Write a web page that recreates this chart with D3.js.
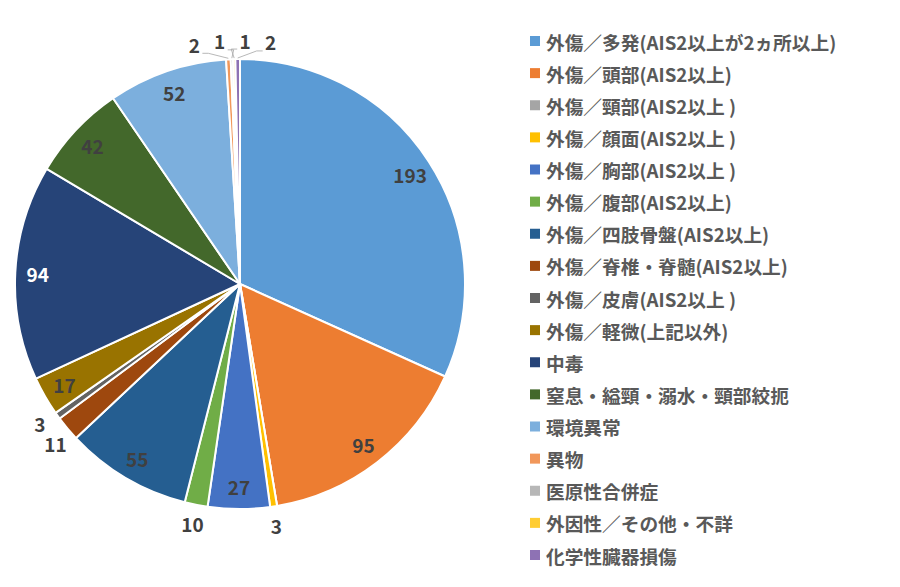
<!DOCTYPE html>
<html><head><meta charset="utf-8">
<script src="https://cdn.jsdelivr.net/npm/d3@7/dist/d3.min.js"></script>
<style>body{margin:0;background:#fff}svg{display:block}</style>
</head><body>
<svg id="c" width="900" height="587"></svg>
<script>
const categories = [
  "外傷／多発(AIS2以上が2ヵ所以上)",
  "外傷／頭部(AIS2以上)",
  "外傷／頸部(AIS2以上 )",
  "外傷／顔面(AIS2以上 )",
  "外傷／胸部(AIS2以上 )",
  "外傷／腹部(AIS2以上)",
  "外傷／四肢骨盤(AIS2以上)",
  "外傷／脊椎・脊髄(AIS2以上)",
  "外傷／皮膚(AIS2以上 )",
  "外傷／軽微(上記以外)",
  "中毒",
  "窒息・縊頸・溺水・頸部絞扼",
  "環境異常",
  "異物",
  "医原性合併症",
  "外因性／その他・不詳",
  "化学性臓器損傷"
];
const values = [193, 95, 0, 3, 27, 10, 55, 11, 3, 17, 94, 42, 52, 2, 1, 1, 2];
const colors = ["#5B9BD5","#ED7D31","#A5A5A5","#FFC000","#4472C4","#70AD47","#255E91","#9E480E",
                "#636363","#997300","#264478","#43682B","#7CAFDD","#F1975A","#B7B7B7","#FFCD33","#8E72B4"];
const whiteLabels = ["中毒"];

const svg = d3.select("#c");
const cx = 240, cy = 284, R = 225;
const font = "'Noto Sans CJK JP','Noto Sans',sans-serif";
const data = categories.map((c,i)=>({name:c, value:values[i], color:colors[i]}));
const pie = d3.pie().value(d=>d.value).sort(null);
const arcs = pie(data);
const arc = d3.arc().innerRadius(0).outerRadius(R);
const g = svg.append("g").attr("transform",`translate(${cx},${cy})`);
g.selectAll("path").data(arcs).join("path")
  .attr("d", arc).attr("fill", d=>d.data.color)
  .attr("stroke","#fff").attr("stroke-width",2).attr("stroke-linejoin","round");

const inside = [], outside = [];
arcs.forEach(a=>{
  if (a.data.value <= 0) return;
  const mid = (a.startAngle + a.endAngle)/2;
  if (a.data.value >= 15) inside.push({a, ang: mid});
  else outside.push({a, mid, ang: mid});
});
inside.forEach(o=>{
  const r = R*0.9;
  g.append("text").attr("x", r*Math.sin(o.ang)).attr("y", -r*Math.cos(o.ang))
    .attr("text-anchor","middle").attr("dominant-baseline","central")
    .attr("font-family",font).attr("font-weight","bold").attr("font-size",19)
    .attr("fill", whiteLabels.includes(o.a.data.name) ? "#fff" : "#404040")
    .text(o.a.data.value);
});
outside.sort((p,q)=>p.ang-q.ang);
const minSep = 6*Math.PI/180;
for (let it=0; it<200; it++){
  for (let i=0;i<outside.length-1;i++){
    const p=outside[i], q=outside[i+1];
    const d = q.ang-p.ang;
    if (d<minSep){ const s=(minSep-d)/2; p.ang-=s; q.ang+=s; }
  }
}
const rl = R+19;
outside.forEach(o=>{
  const x = rl*Math.sin(o.ang), y = -rl*Math.cos(o.ang);
  if (Math.abs(o.ang-o.mid) > 2*Math.PI/180){
    const ex = (R+1)*Math.sin(o.mid), ey = -(R+1)*Math.cos(o.mid);
    const sx = x + (Math.sin(o.ang)>0 ? -8 : 8), sy = y + 9;
    g.append("polyline")
      .attr("points", `${sx},${sy} ${sx + (ex>sx?6:-6)},${sy} ${ex},${ey}`)
      .attr("fill","none").attr("stroke","#A6A6A6").attr("stroke-width",0.8);
  }
  g.append("text").attr("x", x).attr("y", y)
    .attr("text-anchor","middle").attr("dominant-baseline","central")
    .attr("font-family",font).attr("font-weight","bold").attr("font-size",19)
    .attr("fill","#404040").text(o.a.data.value);
});

const ly = d3.scalePoint().domain(categories).range([41, 555]);
const lg = svg.append("g");
const items = lg.selectAll("g").data(data).join("g")
  .attr("transform", d=>`translate(530,${ly(d.name)})`);
items.append("rect").attr("x",0).attr("y",-5).attr("width",10).attr("height",10).attr("fill",d=>d.color);
items.append("text").attr("x",16).attr("y",0).attr("dominant-baseline","central")
  .attr("font-family",font).attr("font-weight","bold").attr("font-size",18.7)
  .attr("fill","#595959").text(d=>d.name);
</script>
</body></html>
